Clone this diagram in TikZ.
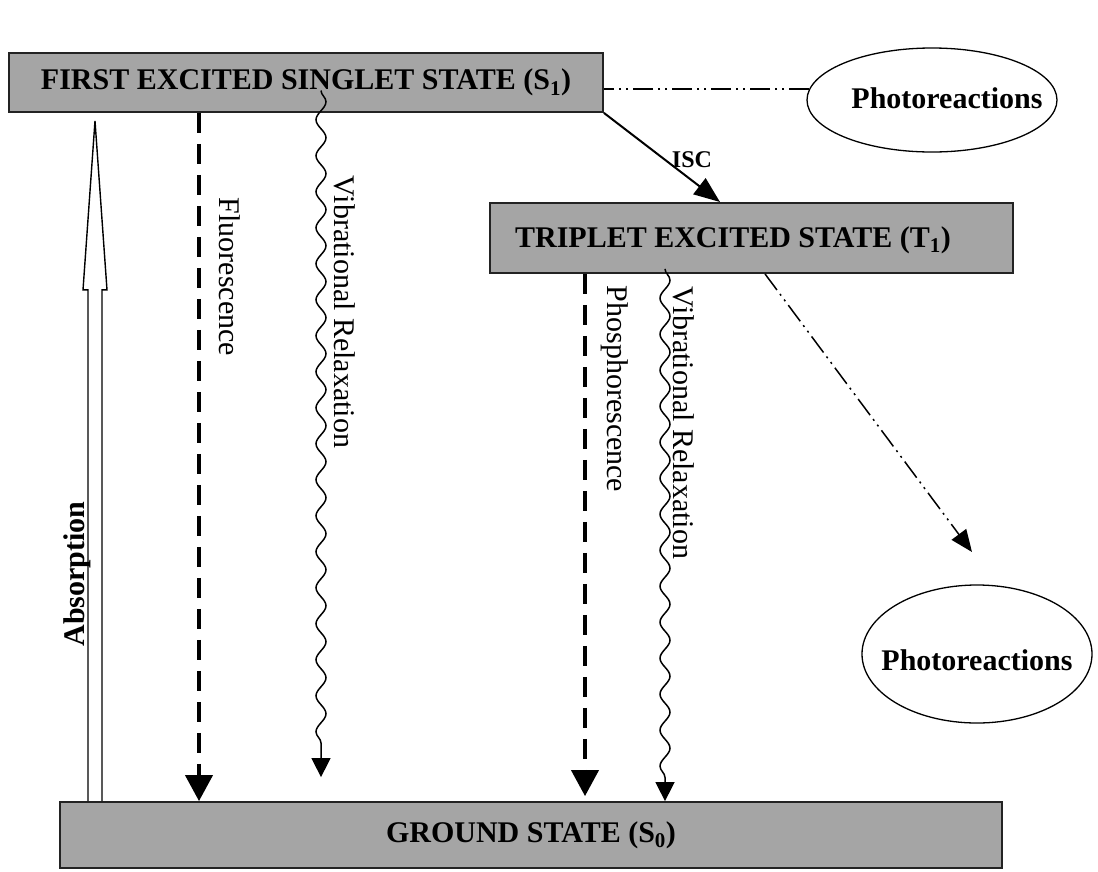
\documentclass[tikz,border=0pt]{standalone}
\usepackage{fontspec}
\setmainfont{Liberation Serif}
\usetikzlibrary{arrows.meta,decorations.pathmorphing,shapes.geometric,calc}
\definecolor{boxgray}{RGB}{165,165,165}
\definecolor{edgegray}{RGB}{35,35,35}
\begin{document}
\begin{tikzpicture}[x=1pt,y=-1pt,
  statebox/.style={draw=edgegray, line width=1.8pt, fill=boxgray, inner sep=0pt,
    font=\fontsize{30}{36}\selectfont\bfseries},
  statetext/.style={inner sep=0pt, font=\fontsize{30}{36}\selectfont\bfseries},
  reacell/.style={draw, ellipse, line width=1.3pt, inner sep=0pt},
  reactext/.style={inner sep=0pt, font=\fontsize{30}{36}\selectfont\bfseries},
  vlabel/.style={inner sep=0pt, font=\fontsize{30}{36}\selectfont},
  blabel/.style={inner sep=0pt, font=\fontsize{30}{36}\selectfont\bfseries},
  isctext/.style={inner sep=0pt, font=\fontsize{24}{28}\selectfont\bfseries},
  dasharrow/.style={line width=4pt, dash pattern=on 20pt off 11pt,
    -{Triangle[width=27pt,length=26pt]}},
  wavyarrow/.style={line width=1.5pt, decorate,
    decoration={snake, amplitude=5pt, segment length=36pt, post length=20pt},
    -{Triangle[width=19pt,length=19pt]}},
  iscarrow/.style={line width=2pt, -{Triangle[width=20pt,length=26pt]}},
  dashdot/.style={line width=1.5pt, dash pattern=on 20pt off 5pt on 2pt off 5pt on 2pt off 5pt},
  dashdotarrow/.style={dashdot, -{Triangle[width=18pt,length=22pt]}},
  absarrow/.style={line width=1.4pt, line join=miter}
]
\useasboundingbox (0,0) rectangle (1098,871);

% state boxes
\node[statebox, minimum width=594pt, minimum height=59pt] (s1) at (306,82.5)
  {FIRST EXCITED SINGLET STATE (S\textsubscript{1})};
\node[statebox, minimum width=523pt, minimum height=70pt] (t1) at (751.5,238) {};
\node[statetext] (t1text) at (733,240) {TRIPLET EXCITED STATE (T\textsubscript{1})};
\node[statebox, minimum width=942pt, minimum height=66pt] (s0) at (531,835)
  {GROUND STATE (S\textsubscript{0})};

% photoreactions
\node[reacell, minimum width=250pt, minimum height=104pt] (pr1) at (932,100) {};
\node[reactext] (pr1text) at (947,98) {Photoreactions};
\node[reacell, minimum width=230pt, minimum height=138pt] (pr2) at (977,654) {};
\node[reactext] (pr2text) at (977,660) {Photoreactions};

% x positions of the vertical transitions
\coordinate (xabs) at (95,0);
\coordinate (xfl) at (199,0);
\coordinate (xv1) at (321,0);
\coordinate (xph) at (585,0);
\coordinate (xv2) at (665,0);
\coordinate (xdd) at (765,0);
\coordinate (pr2tip) at (972,552);
\coordinate (isctip) at (720,202);

% absorption (open double arrow)
\coordinate (abstip) at ($(s1.south -| xabs)+(0,8)$);
\coordinate (absbot) at (s0.north -| xabs);
\draw[absarrow] ($(absbot)+(-7,0)$) -- ($(abstip)+(-7,169)$) -- ($(abstip)+(-12,169)$)
  -- (abstip) -- ($(abstip)+(12,169)$) -- ($(abstip)+(7,169)$) -- ($(absbot)+(7,0)$);

% fluorescence / phosphorescence
\draw[dasharrow] (s1.south -| xfl) -- (s0.north -| xfl);
\draw[dasharrow] (t1.south -| xph) -- ($(s0.north -| xph)+(0,-5)$);

% vibrational relaxation
\draw[wavyarrow] ($(s1.center -| xv1)+(0,8)$) -- ($(s0.north -| xv1)+(0,-24)$);
\draw[wavyarrow] ($(t1.south -| xv2)+(0,-5)$) -- (s0.north -| xv2);

% ISC
\draw[iscarrow] (s1.south east) -- (isctip);
\node[isctext] (isc) at (692,160) {ISC};

% photoreaction paths
\draw[dashdot] (pr1.175) -- (pr1.175 -| s1.east);
\draw[dashdotarrow] (t1.south -| xdd) -- (pr2tip);

% rotated labels
\node[vlabel, rotate=-90] (flab) at (230,277) {Fluorescence};
\node[vlabel, rotate=-90] (v1lab) at (345,312) {Vibrational Relaxation};
\node[vlabel, rotate=-90] (phlab) at (615,389) {Phosphorescence};
\node[vlabel, rotate=-90] (v2lab) at (684,423) {Vibrational Relaxation};
\node[blabel, rotate=90] (alab) at (77,574) {Absorption};
\end{tikzpicture}
\end{document}
